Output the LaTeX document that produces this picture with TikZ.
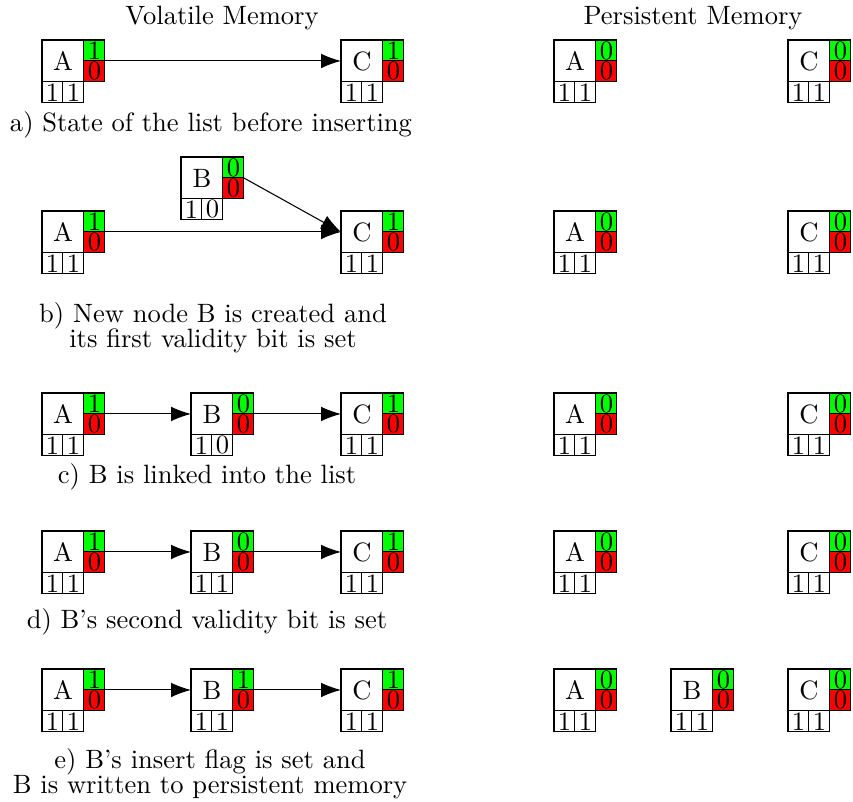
\documentclass[tikz,border=0pt]{standalone}
\usetikzlibrary{arrows.meta}

\tikzset{
  membox/.style={draw, minimum size=15.8pt, inner sep=0pt, outer sep=0pt, anchor=north west},
  bit/.style={draw, minimum size=7.9pt, inner sep=0pt, outer sep=0pt, anchor=north west},
  ptr/.style={draw, -{Latex[length=7.5pt,width=5.5pt]}}
}

% list node: name, x, y, key, insert flag, delete flag, validity bits
\newcommand{\listnode}[8]{%
  \node[membox] (#1) at (#2,#3) {#4};
  \node[bit, fill=green] (#1v) at (#1.north east) {#5};
  \node[bit, fill=red]   (#1d) at (#1v.south west) {#6};
  \node[bit] (#1a) at (#1.south west) {#7};
  \node[bit] (#1b) at (#1a.north east) {#8};
}

\begin{document}
\begin{tikzpicture}[x=0.377pt, y=-0.377pt]
  \useasboundingbox (0,0) rectangle (853,801);

  \node (vol) at (222,18) {Volatile Memory};
  \node (per) at (693,18) {Persistent Memory};

  % a)
  \listnode{aA}{42}{40}{A}{1}{0}{1}{1}
  \listnode{aC}{341}{40}{C}{1}{0}{1}{1}
  \listnode{paA}{554}{40}{A}{0}{0}{1}{1}
  \listnode{paC}{788}{40}{C}{0}{0}{1}{1}
  \draw [ptr] (aAv.south east) -- (aC.west);
  \node (capa) at (211,125) {a) State of the list before inserting};

  % b)
  \listnode{bB}{181}{157}{B}{0}{0}{1}{0}
  \listnode{bA}{42}{211}{A}{1}{0}{1}{1}
  \listnode{bC}{341}{211}{C}{1}{0}{1}{1}
  \listnode{pbA}{554}{211}{A}{0}{0}{1}{1}
  \listnode{pbC}{788}{211}{C}{0}{0}{1}{1}
  \draw [ptr] (bAv.south east) -- (bC.west);
  \draw [ptr] (bBv.south east) -- (bC.west);
  \node (capb) at (213,328) [align=center]
    {b) New node B is created and\\[-2.6pt] its first validity bit is set};

  % c)
  \listnode{cA}{42}{393}{A}{1}{0}{1}{1}
  \listnode{cB}{191}{393}{B}{0}{0}{1}{0}
  \listnode{cC}{341}{393}{C}{1}{0}{1}{1}
  \listnode{pcA}{554}{393}{A}{0}{0}{1}{1}
  \listnode{pcC}{788}{393}{C}{0}{0}{1}{1}
  \draw [ptr] (cAv.south east) -- (cB.west);
  \draw [ptr] (cBv.south east) -- (cC.west);
  \node (capc) at (207,477) {c) B is linked into the list};

  % d)
  \listnode{dA}{42}{531}{A}{1}{0}{1}{1}
  \listnode{dB}{191}{531}{B}{0}{0}{1}{1}
  \listnode{dC}{341}{531}{C}{1}{0}{1}{1}
  \listnode{pdA}{554}{531}{A}{0}{0}{1}{1}
  \listnode{pdC}{788}{531}{C}{0}{0}{1}{1}
  \draw [ptr] (dAv.south east) -- (dB.west);
  \draw [ptr] (dBv.south east) -- (dC.west);
  \node (capd) at (207,622) {d) B's second validity bit is set};

  % e)
  \listnode{eA}{42}{669}{A}{1}{0}{1}{1}
  \listnode{eB}{191}{669}{B}{1}{0}{1}{1}
  \listnode{eC}{341}{669}{C}{1}{0}{1}{1}
  \listnode{peA}{554}{669}{A}{0}{0}{1}{1}
  \listnode{peB}{671}{669}{B}{0}{0}{1}{1}
  \listnode{peC}{788}{669}{C}{0}{0}{1}{1}
  \draw [ptr] (eAv.south east) -- (eB.west);
  \draw [ptr] (eBv.south east) -- (eC.west);
  \node (cape) at (210,774) [align=center]
    {e) B's insert flag is set and\\[-2.6pt] B is written to persistent memory};
\end{tikzpicture}
\end{document}
